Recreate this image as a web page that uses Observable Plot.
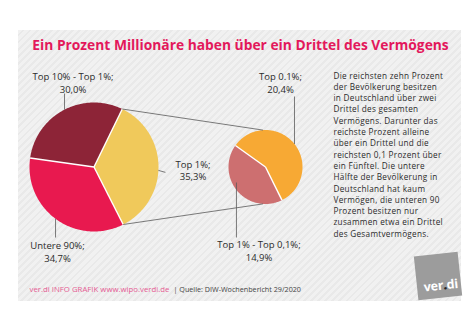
<!DOCTYPE html>
<html><head><meta charset="utf-8">
<script src="https://cdn.jsdelivr.net/npm/d3@7"></script>
<script src="https://cdn.jsdelivr.net/npm/@observablehq/plot@0.6"></script>
<style>
html,body{margin:0;padding:0;background:#fff;}
#wrap{position:relative;width:475px;height:335px;overflow:hidden;font-family:"Open Sans",sans-serif;}
#panel{position:absolute;left:18px;top:30px;width:443px;height:271px;
  background:repeating-linear-gradient(-45deg,#e9e9e9 0px,#e9e9e9 2px,#f1f1f1 2px,#f1f1f1 5px);}
#chart{position:absolute;left:0;top:0;}
#logo{position:absolute;left:416px;top:254px;width:44px;height:44px;background:#9c9c9c;transform:rotate(-6deg);}
#logo span{position:absolute;right:3px;bottom:4px;color:#fff;font-family:"Open Sans",sans-serif;font-weight:bold;font-size:12.5px;letter-spacing:-0.2px;}
#logo b{color:#222;}
.note{letter-spacing:0.28px;}
</style></head><body>
<div id="wrap"><div id="panel"></div><div id="chart"></div><div id="logo"><span>ver<b>.</b>di</span></div></div>
<script>
// ---- data ----
const mainCategories = ["Top 1%", "Untere 90%", "Top 10% - Top 1%"];
const mainValues = [35.3, 34.7, 30.0];
const mainValueLabels = ["35,3%", "34,7%", "30,0%"];
const subCategories = ["Top 0.1%", "Top 1% - Top 0,1%"];
const subValues = [20.4, 14.9];
const subValueLabels = ["20,4%", "14,9%"];
const titleText = "Ein Prozent Millionäre haben über ein Drittel des Vermögens";
const noteLines = ["Die reichsten zehn Prozent","der Bevölkerung besitzen","in Deutschland über zwei","Drittel des gesamten","Vermögens. Darunter das","reichste Prozent alleine","über ein Drittel und die","reichsten 0,1 Prozent über","ein Fünftel. Die untere","Hälfte der Bevölkerung in","Deutschland hat kaum","Vermögen, die unteren 90","Prozent besitzen nur","zusammen etwa ein Drittel","des Gesamtvermögens."];
const sourcePink = "ver.di INFO GRAFIK www.wipo.verdi.de";
const sourceGray = "| Quelle: DIW-Wochenbericht 29/2020";

// ---- layout / styles ----
const deg = Math.PI / 180;
const BIG = {cx: 93.5, cy: 166.5, r: 64.5, start: 26 * deg};
const SMALL = {cx: 265, cy: 166.5, r: 37, start: 305.6 * deg};
const mainColors = ["#f0c95b", "#e8194f", "#8d2437"];
const subColors = ["#f7a934", "#cd6f70"];
const polar = (p, a, f = 1) => [p.cx + p.r * f * Math.sin(a), p.cy - p.r * f * Math.cos(a)];

function slices(pie, cats, vals, colors) {
  const arcs = d3.pie().sort(null).startAngle(pie.start).endAngle(pie.start + 2 * Math.PI)(vals);
  const pts = [];
  arcs.forEach((a, i) => {
    pts.push({k: cats[i], c: colors[i], x: pie.cx, y: pie.cy});
    const n = Math.ceil((a.endAngle - a.startAngle) / (1 * deg));
    for (let j = 0; j <= n; j++) {
      const t = a.startAngle + (a.endAngle - a.startAngle) * j / n;
      const [x, y] = polar(pie, t);
      pts.push({k: cats[i], c: colors[i], x, y});
    }
    pts.push({k: cats[i], c: colors[i], x: pie.cx, y: pie.cy});
  });
  return {arcs, pts};
}
const big = slices(BIG, mainCategories, mainValues, mainColors);
const small = slices(SMALL, subCategories, subValues, subColors);

const seps = [
  ...big.arcs.map(a => { const [x2, y2] = polar(BIG, a.startAngle); return {x1: BIG.cx, y1: BIG.cy, x2, y2}; }),
  ...small.arcs.map(a => { const [x2, y2] = polar(SMALL, a.startAngle); return {x1: SMALL.cx, y1: SMALL.cy, x2, y2}; })
];
// connectors from the Top 1% slice edges to the breakdown pie
const top1 = big.arcs[0];
const connectors = [
  [polar(BIG, top1.startAngle), polar(SMALL, 356 * deg)],
  [polar(BIG, top1.endAngle), polar(SMALL, 184 * deg)]
].map(([a, b]) => ({x1: a[0], y1: a[1], x2: b[0], y2: b[1]}));

// labels: text + placement
const labels = [
  {t: mainCategories[2] + ";\n" + mainValueLabels[2], x: 72.5, y: 82},
  {t: mainCategories[0] + ";\n" + mainValueLabels[0], x: 192.5, y: 169.5},
  {t: mainCategories[1] + ";\n" + mainValueLabels[1], x: 57, y: 251},
  {t: subCategories[0] + ";\n" + subValueLabels[0], x: 280, y: 82},
  {t: subCategories[1] + ";\n" + subValueLabels[1], x: 258.5, y: 250}
];
// leader lines (vertical from pie edge to label)
const leader = (p, a, f, yEnd) => { const [x, y] = polar(p, a, f); return {x1: x, y1: y, x2: x, y2: yEnd}; };
const leaders = [
  leader(BIG, 332.8 * deg, 1, 93),
  leader(BIG, 216.6 * deg, 1, 237),
  leader(SMALL, 51.6 * deg, 1, 96),
  leader(SMALL, 241.9 * deg, 0.89, 237)
];
const [tx, ty] = polar(BIG, 93 * deg);
leaders.push({x1: tx, y1: ty, x2: tx + 7, y2: ty + 2});

const plot = Plot.plot({
  width: 475, height: 335, margin: 0,
  x: {domain: [0, 475], range: [0, 475], axis: null},
  y: {domain: [0, 335], range: [0, 335], axis: null},
  style: {background: "transparent", fontFamily: "'Open Sans', sans-serif"},
  marks: [
    Plot.line(big.pts, {x: "x", y: "y", z: "k", fill: "c", stroke: null, curve: "linear"}),
    Plot.line(small.pts, {x: "x", y: "y", z: "k", fill: "c", stroke: null, curve: "linear"}),
    Plot.link(seps, {x1: "x1", y1: "y1", x2: "x2", y2: "y2", stroke: "#fff", strokeWidth: 1.4}),
    Plot.link(connectors, {x1: "x1", y1: "y1", x2: "x2", y2: "y2", stroke: "#5a5a5a", strokeWidth: 0.8}),
    Plot.link(leaders, {x1: "x1", y1: "y1", x2: "x2", y2: "y2", stroke: "#5a5a5a", strokeWidth: 0.8}),
    Plot.text(labels, {x: "x", y: "y", text: "t", fontSize: 9.5, fill: "#2b2b2b", lineHeight: 1.3, textAnchor: "middle"}),
    Plot.text([titleText], {x: () => 240, y: () => 45, text: d => d, fontSize: 13.8, fontWeight: "bold", fill: "#e3185b", textAnchor: "middle"}),
    Plot.text([noteLines.join("\n")], {x: () => 333, y: () => 70, text: d => d, fontSize: 8.2, fill: "#2b2b2b", lineHeight: 1.378, textAnchor: "start", lineAnchor: "top", className: "note"}),
    Plot.text([sourcePink], {x: () => 29, y: () => 289, text: d => d, fontSize: 7.8, fill: "#e55b93", textAnchor: "start"}),
    Plot.text([sourceGray], {x: () => 173, y: () => 289, text: d => d, fontSize: 7.2, fill: "#444", textAnchor: "start"})
  ]
});
document.getElementById("chart").appendChild(plot);
</script>
</body></html>
